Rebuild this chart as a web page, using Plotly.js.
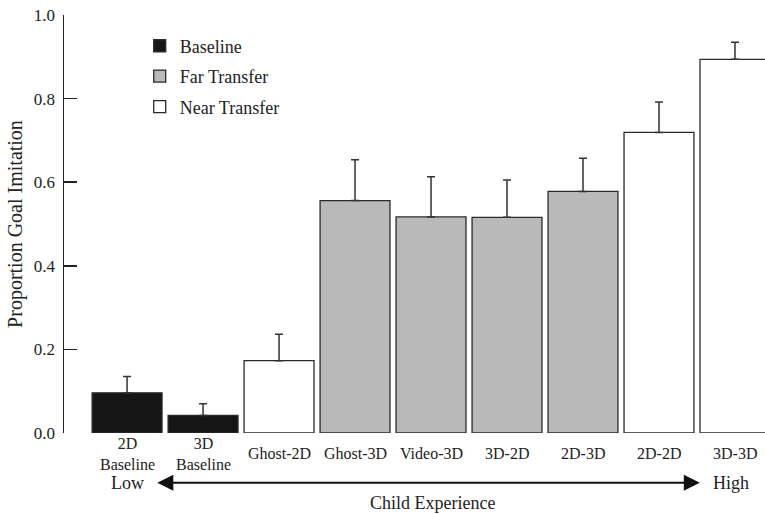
<!DOCTYPE html>
<html>
<head>
<meta charset="utf-8">
<script src="https://cdn.plot.ly/plotly-3.0.1.min.js"></script>
<style>html,body{margin:0;padding:0;background:#fff;}#chart{width:765px;height:514px;}</style>
</head>
<body>
<div id="chart"></div>
<script>
// categories in order of child experience
const categories = ["2D Baseline","3D Baseline","Ghost-2D","Ghost-3D","Video-3D","3D-2D","2D-3D","2D-2D","3D-3D"];
const categoryLabels = ["2D<br>Baseline","3D<br>Baseline","Ghost-2D","Ghost-3D","Video-3D","3D-2D","2D-3D","2D-2D","3D-3D"];
const groups = ["Baseline","Baseline","Near Transfer","Far Transfer","Far Transfer","Far Transfer","Far Transfer","Near Transfer","Near Transfer"];
const means = [0.096, 0.042, 0.173, 0.556, 0.517, 0.516, 0.578, 0.719, 0.894];
const errUp = [0.039, 0.028, 0.063, 0.098, 0.096, 0.089, 0.079, 0.073, 0.041];
const groupNames = ["Baseline","Far Transfer","Near Transfer"];
const groupColors = {"Baseline":"#161616","Far Transfer":"#b9b9b9","Near Transfer":"#ffffff"};
const yTicks = [0,0.2,0.4,0.6,0.8,1.0];
const yTickText = ["0.0","0.2","0.4","0.6","0.8","1.0"];

const serif = "Liberation Serif, Times New Roman, serif";

const traces = groupNames.map((g, gi) => {
  const idx = categories.map((c,i)=>i).filter(i => groups[i] === g);
  return {
    type: "bar",
    name: g,
    x: idx.map(i => categories[i]),
    y: idx.map(i => means[i]),
    width: 0.92,
    marker: {color: groupColors[g], line: {color: "#2a2a2a", width: 1.3}},
    error_y: {type: "data", symmetric: false, array: idx.map(i => errUp[i]), arrayminus: idx.map(()=>0),
              color: "#333", thickness: 1.5, width: 4},
    legendgroup: g,
    showlegend: true
  };
});

const annotations = categories.map((c,i) => ({
  x: c, xref: "x", y: -0.05, yref: "paper",
  text: categoryLabels[i], showarrow: false, yanchor: "middle", xanchor: "center",
  font: {family: serif, size: 16, color: "#222"}
}));
annotations.push(
  {x: 0.09, y: -0.119, xref: "paper", yref: "paper", text: "Low", showarrow: false,
   font: {family: serif, size: 18, color: "#222"}, xanchor: "center", yanchor: "middle"},
  {x: 0.952, y: -0.119, xref: "paper", yref: "paper", text: "High", showarrow: false,
   font: {family: serif, size: 18, color: "#222"}, xanchor: "center", yanchor: "middle"},
  {x: 0.525, y: -0.167, xref: "paper", yref: "paper", text: "Child Experience", showarrow: false,
   font: {family: serif, size: 18, color: "#222"}, xanchor: "center", yanchor: "middle"},
  {x: 0.907, y: -0.119, xref: "paper", yref: "paper", text: "", showarrow: true,
   ax: -544, ay: 0, axref: "pixel", ayref: "pixel", arrowside: "end+start",
   arrowhead: 2, arrowsize: 1.6, arrowwidth: 2, arrowcolor: "#111", standoff: 0, startstandoff: 0}
);

const layout = {
  width: 765, height: 514,
  margin: {l: 64, r: 0, t: 15, b: 81},
  paper_bgcolor: "#fff", plot_bgcolor: "#fff",
  barmode: "overlay",
  showlegend: true,
  legend: {x: 0.108, y: 0.970, xanchor: "left", yanchor: "top", bgcolor: "rgba(0,0,0,0)",
           font: {family: serif, size: 18, color: "#222"}, tracegroupgap: 4, itemwidth: 30},
  xaxis: {type: "category", categoryorder: "array", categoryarray: categories,
          range: [-0.83, 8.395], showticklabels: false, ticks: "", showline: false,
          showgrid: false, zeroline: false, fixedrange: true},
  yaxis: {range: [0, 1], tickvals: yTicks, ticktext: yTickText, ticks: "inside", ticklen: 13,
          tickwidth: 1.5, tickcolor: "#222", showline: true, linecolor: "#222", linewidth: 1.5,
          showgrid: false, zeroline: false, ticklabelstandoff: 4,
          tickfont: {family: serif, size: 17, color: "#222"},
          title: {text: "Proportion Goal Imitation", font: {family: serif, size: 20, color: "#222"}, standoff: 6}},
  annotations: annotations
};

Plotly.newPlot("chart", traces, layout, {displayModeBar: false, staticPlot: true});
</script>
</body>
</html>
